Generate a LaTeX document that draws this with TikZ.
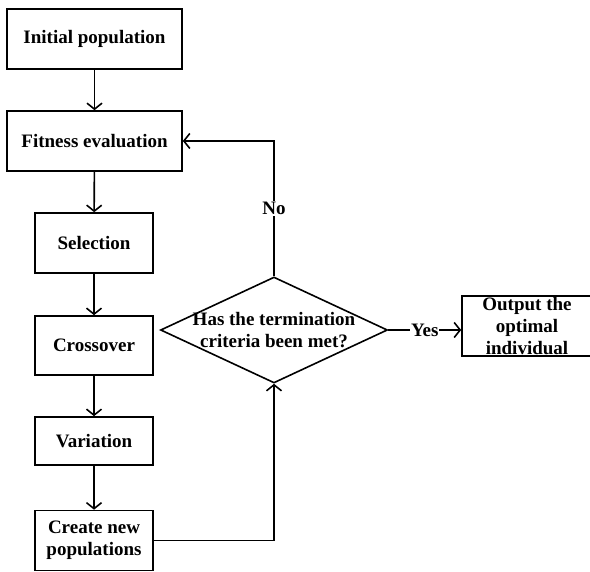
\documentclass[tikz,border=0pt]{standalone}
\usepackage{fontspec}
\setmainfont{Liberation Serif}
\usetikzlibrary{shapes.geometric, arrows.meta, positioning, calc}

\begin{document}
\begin{tikzpicture}[x=1pt, y=-1pt, font=\fontsize{19}{22}\selectfont\bfseries,
    procbox/.style={draw, line width=1.6pt, align=center, inner sep=0pt},
    flowarrow/.style={-{Straight Barb[length=6pt, width=15pt]}, line width=1.6pt},
    lbl/.style={fill=white, inner sep=1pt}]
        \useasboundingbox (0,0) rectangle (590,572);

        \node[procbox, minimum width=175pt, minimum height=60pt] (init) at (94.5, 39) {Initial population};
        \node[procbox, minimum width=175pt, minimum height=60pt] (fit) at (94.5, 141) {Fitness evaluation};
        \node[procbox, minimum width=118pt, minimum height=60pt] (sel) at (94, 243) {Selection};
        \node[procbox, minimum width=118pt, minimum height=59pt] (cross) at (94, 345.5) {Crossover};
        \node[procbox, minimum width=118pt, minimum height=48pt] (var) at (94, 441) {Variation};
        \node[procbox, minimum width=118pt, minimum height=60pt] (create) at (94, 540.5) {Create new\\populations};

        \node[procbox, diamond, aspect=2.14, minimum width=227pt, minimum height=106pt, inner sep=-20pt] (dec) at (274, 330) {Has the termination\\criteria been met?};
        \node[procbox, minimum width=130pt, inner ysep=1.5pt] (out) at (527, 326) {Output the\\optimal\\individual};

        \draw[flowarrow] (init) -- (fit);
        \draw[flowarrow] (fit) -- (sel);
        \draw[flowarrow] (sel) -- (cross);
        \draw[flowarrow] (cross) -- (var);
        \draw[flowarrow] (var) -- (create);
        \draw[flowarrow] (create.east) -| (dec.south);
        \draw[flowarrow] (dec.north) -- node[lbl]{No} (dec.north |- fit.east) -- (fit.east);
        \draw[flowarrow] (dec.east) -- node[lbl]{Yes} (dec.east -| out.west);
    \end{tikzpicture}
\end{document}
